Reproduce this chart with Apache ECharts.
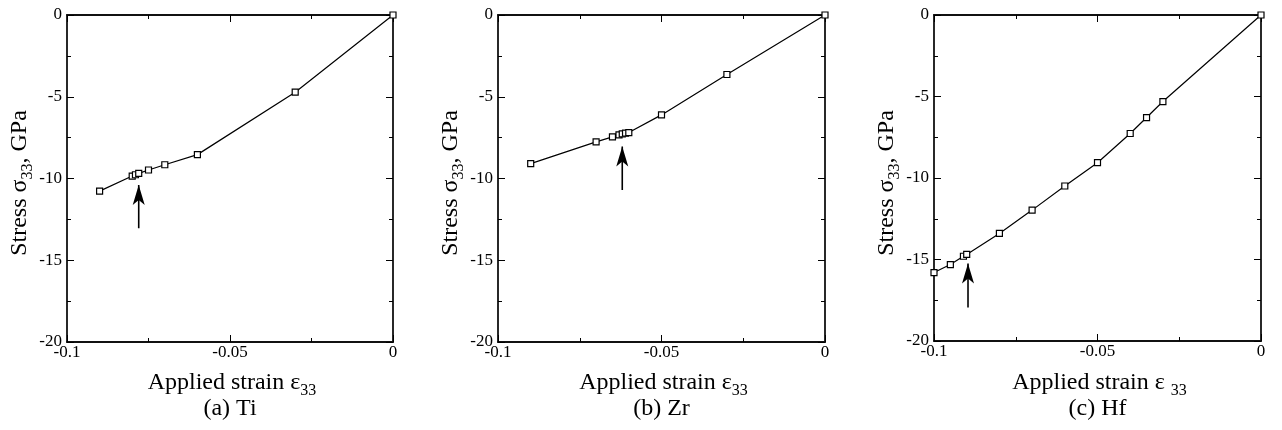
<!DOCTYPE html>
<html>
<head>
<meta charset="utf-8">
<script src="https://cdn.jsdelivr.net/npm/echarts@6/dist/echarts.min.js"></script>
<style>
html,body{margin:0;padding:0;background:#fff;}
#chart{width:1282px;height:430px;}
</style>
</head>
<body>
<div id="chart"></div>
<script>
// ---- data ----
const xTickLabels = ['-0.1', '-0.05', '0'];
const yTickLabels = ['-20', '-15', '-10', '-5', '0'];

const tiStrain = [-0.09, -0.08, -0.079, -0.078, -0.075, -0.07, -0.06, -0.03, 0];
const tiStress = [-10.77, -9.85, -9.77, -9.69, -9.48, -9.16, -8.54, -4.72, 0];
const tiArrow = [-0.078, -13.05, -10.4]; // x, tail, tip

const zrStrain = [-0.09, -0.07, -0.065, -0.063, -0.062, -0.061, -0.06, -0.05, -0.03, 0];
const zrStress = [-9.09, -7.76, -7.45, -7.33, -7.27, -7.23, -7.19, -6.11, -3.64, 0];
const zrArrow = [-0.062, -10.7, -8.05];

const hfStrain = [-0.1, -0.095, -0.091, -0.09, -0.08, -0.07, -0.06, -0.05, -0.04, -0.035, -0.03, 0];
const hfStress = [-15.8, -15.31, -14.8, -14.69, -13.4, -11.97, -10.49, -9.06, -7.27, -6.29, -5.31, 0];
const hfArrow = [-0.0896, -17.95, -15.25];

const panelLabels = ['(a) Ti', '(b) Zr', '(c) Hf'];
const xNameTexts = ['Applied strain ε', 'Applied strain ε', 'Applied strain ε '];
const yNameText = ['Stress σ', '33', ', GPa'];
const subText = '33';

// ---- layout ----
const grids = [
  {left: 67, top: 15, width: 326, height: 327},
  {left: 498, top: 15, width: 327, height: 327},
  {left: 934, top: 15, width: 327, height: 326}
];
const serif = '"Liberation Serif", "Times New Roman", serif';
const black = '#000';

const strains = [tiStrain, zrStrain, hfStrain];
const stresses = [tiStress, zrStress, hfStress];
const arrows = [tiArrow, zrArrow, hfArrow];

const xAxes = [], yAxes = [], series = [], graphics = [];

function axisCommon(showLabel, labels, position, gridIndex, isX) {
  return {
    type: 'value',
    gridIndex: gridIndex,
    position: position,
    min: isX ? -0.1 : -20,
    max: 0,
    interval: isX ? 0.05 : 5,
    axisLine: {show: true, onZero: false, lineStyle: {color: '#111', width: 1.8}},
    axisTick: {show: true, inside: true, length: 7, lineStyle: {color: black, width: 1}},
    minorTick: {show: true, splitNumber: 2, length: 4, lineStyle: {color: black, width: 1}},
    splitLine: {show: false},
    minorSplitLine: {show: false},
    axisLabel: {
      show: showLabel,
      color: black,
      fontFamily: serif,
      fontSize: 17,
      margin: isX ? 2 : 5,
      formatter: function (v) {
        const ticks = isX ? [-0.1, -0.05, 0] : [-20, -15, -10, -5, 0];
        let idx = 0, best = 1e9;
        ticks.forEach((t, i) => { if (Math.abs(t - v) < best) { best = Math.abs(t - v); idx = i; } });
        return labels[idx];
      }
    }
  };
}

const richN = {fontSize: 24, fontFamily: serif, lineHeight: 32, verticalAlign: 'middle', fill: black};
const richS = {fontSize: 16, fontFamily: serif, lineHeight: 16, verticalAlign: 'top', padding: [15.5, 0, 0, 0], fill: black};

grids.forEach((g, i) => {
  xAxes.push(axisCommon(true, xTickLabels, 'bottom', i, true));
  xAxes.push(axisCommon(false, xTickLabels, 'top', i, true));
  yAxes.push(axisCommon(true, yTickLabels, 'left', i, false));
  yAxes.push(axisCommon(false, yTickLabels, 'right', i, false));

  const data = strains[i].map((x, k) => [x, stresses[i][k]]);
  series.push({
    type: 'line',
    xAxisIndex: 2 * i,
    yAxisIndex: 2 * i,
    data: data,
    symbol: 'rect',
    symbolSize: 6,
    showSymbol: true,
    showAllSymbol: true,
    lineStyle: {color: black, width: 1.2},
    itemStyle: {color: '#fff', borderColor: black, borderWidth: 1.2},
    z: 3,
    silent: true
  });
  const a = arrows[i];
  series.push({
    type: 'line',
    xAxisIndex: 2 * i,
    yAxisIndex: 2 * i,
    data: [
      {value: [a[0], a[1]], symbol: 'none'},
      {value: [a[0], a[2]], symbol: 'arrow', symbolSize: [9, 20], symbolOffset: [0, 0]}
    ],
    showAllSymbol: true,
    lineStyle: {color: black, width: 1.6},
    itemStyle: {color: black, borderWidth: 0},
    z: 2,
    silent: true
  });

  const cx = g.left + g.width / 2 + 2;
  graphics.push({
    type: 'text',
    style: {
      x: cx, y: 383,
      text: '{n|' + xNameTexts[i] + '}{s|' + subText + '}',
      align: 'center', verticalAlign: 'middle',
      rich: {n: richN, s: richS}
    }
  });
  graphics.push({
    type: 'text',
    style: {
      x: cx - 2, y: 409,
      text: panelLabels[i],
      align: 'center', verticalAlign: 'middle',
      fontSize: 24, fontFamily: serif, fill: black
    }
  });
  graphics.push({
    type: 'text',
    x: g.left - 39 - 8, y: 183,
    rotation: Math.PI / 2,
    style: {
      x: 0, y: 0,
      text: '{n|' + yNameText[0] + '}{s|' + yNameText[1] + '}{n|' + yNameText[2] + '}',
      align: 'center', verticalAlign: 'middle',
      rich: {n: richN, s: richS}
    }
  });
});

const chart = echarts.init(document.getElementById('chart'), null, {renderer: 'canvas'});
chart.setOption({
  backgroundColor: '#fff',
  animation: false,
  grid: grids,
  xAxis: xAxes,
  yAxis: yAxes,
  series: series,
  graphic: graphics
});
</script>
</body>
</html>
